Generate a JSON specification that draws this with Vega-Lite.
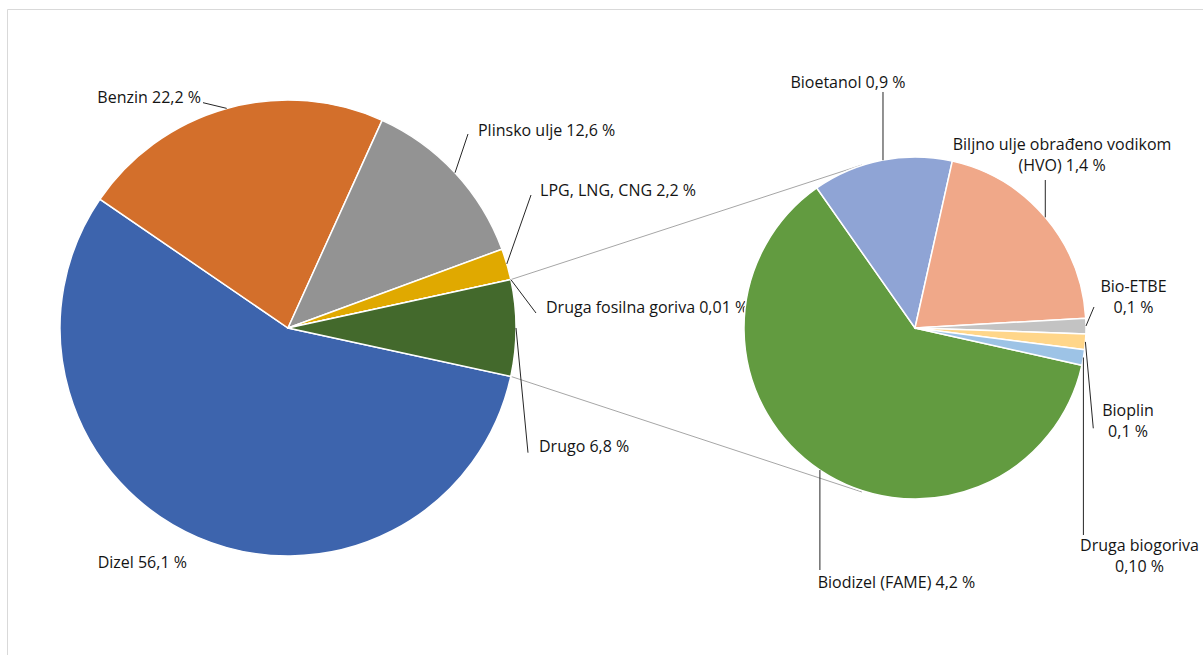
{
  "$schema": "https://vega.github.io/schema/vega-lite/v6.json",
  "width": 1203,
  "height": 655,
  "autosize": {"type": "fit", "contains": "padding"},
  "padding": {"left": 7, "top": 9, "right": 0, "bottom": 0},
  "background": "white",
  "config": {"view": {"stroke": "#d9d9d9", "strokeWidth": 1}, "font": "Open Sans"},
  "datasets": {
    "slices": [
      {"pie": "Fosilna", "rank": 1, "name": "Dizel", "value": 56.1, "label": "Dizel 56,1 %"},
      {"pie": "Fosilna", "rank": 2, "name": "Benzin", "value": 22.2, "label": "Benzin 22,2 %"},
      {"pie": "Fosilna", "rank": 3, "name": "Plinsko ulje", "value": 12.6, "label": "Plinsko ulje 12,6 %"},
      {"pie": "Fosilna", "rank": 4, "name": "LPG, LNG, CNG", "value": 2.2, "label": "LPG, LNG, CNG 2,2 %"},
      {"pie": "Fosilna", "rank": 5, "name": "Druga fosilna goriva", "value": 0.01, "label": "Druga fosilna goriva 0,01 %"},
      {"pie": "Fosilna", "rank": 6, "name": "Drugo", "value": 6.8, "label": "Drugo 6,8 %"},
      {"pie": "Bio", "rank": 1, "name": "Biodizel (FAME)", "value": 4.2, "label": "Biodizel (FAME) 4,2 %"},
      {"pie": "Bio", "rank": 2, "name": "Bioetanol", "value": 0.9, "label": "Bioetanol 0,9 %"},
      {"pie": "Bio", "rank": 3, "name": "Biljno ulje obrađeno vodikom (HVO)", "value": 1.4, "label": "Biljno ulje obrađeno vodikom\n(HVO) 1,4 %"},
      {"pie": "Bio", "rank": 4, "name": "Bio-ETBE", "value": 0.1, "label": "Bio-ETBE\n0,1 %"},
      {"pie": "Bio", "rank": 5, "name": "Bioplin", "value": 0.1, "label": "Bioplin\n0,1 %"},
      {"pie": "Bio", "rank": 6, "name": "Druga biogoriva", "value": 0.1, "label": "Druga biogoriva\n0,10 %"}
    ]
  },
  "layer": [
    {"data": {"values": [{}]}, "mark": {"type": "rule", "color": "#a6a6a6", "strokeWidth": 1},
     "encoding": {"x": {"datum": 0.9772, "type": "quantitative", "scale": {"domain": [-1.2325, 4.0132], "zero": false, "nice": false}, "axis": null},
                  "y": {"datum": 0.2123, "type": "quantitative", "scale": {"domain": [-1.4342, 1.3991], "zero": false, "nice": false}, "axis": null},
                  "x2": {"datum": 2.5175}, "y2": {"datum": 0.7149}}},
    {"data": {"values": [{}]}, "mark": {"type": "rule", "color": "#a6a6a6", "strokeWidth": 1},
     "encoding": {"x": {"datum": 0.9772, "type": "quantitative", "scale": {"domain": [-1.2325, 4.0132], "zero": false, "nice": false}, "axis": null},
                  "y": {"datum": -0.2123, "type": "quantitative", "scale": {"domain": [-1.4342, 1.3991], "zero": false, "nice": false}, "axis": null},
                  "x2": {"datum": 2.5175}, "y2": {"datum": -0.7193}}},
    {
      "data": {"name": "slices"},
      "transform": [{"filter": "datum.pie === 'Fosilna'"}],
      "layer": [
        {
          "mark": {"type": "arc", "radius": 228, "stroke": "white", "strokeWidth": 1.5},
          "encoding": {
            "x": {"datum": 0, "type": "quantitative", "scale": {"domain": [-1.2325, 4.0132], "zero": false, "nice": false}, "axis": null},
            "y": {"datum": 0, "type": "quantitative", "scale": {"domain": [-1.4342, 1.3991], "zero": false, "nice": false}, "axis": null},
            "theta": {"field": "value", "type": "quantitative", "stack": true, "scale": {"range": [1.7846, 8.0678]}},
            "order": {"field": "rank", "type": "quantitative"},
            "color": {"field": "name", "type": "nominal", "legend": null,
                      "scale": {"domain": ["Dizel", "Benzin", "Plinsko ulje", "LPG, LNG, CNG", "Druga fosilna goriva", "Drugo"],
                                "range": ["#3d64ad", "#d36f2b", "#939393", "#e0a900", "#2f5b8f", "#43692c"]}}
          }
        },
        {
          "mark": {"type": "text", "radius": 228, "fontSize": 16, "color": "#141414", "baseline": "middle", "lineBreak": "\n", "lineHeight": 21,
                   "align": {"expr": "['right','right','left','left','left','left'][datum.rank - 1]"},
                   "dx": {"expr": "[-10.8, -25.7, 23, 33.2, 35.2, 23][datum.rank - 1]"},
                   "dy": {"expr": "[25.6, -10.4, -41.8, -73.3, 28.5, 119][datum.rank - 1]"}},
          "encoding": {
            "x": {"datum": 0, "type": "quantitative", "scale": {"domain": [-1.2325, 4.0132], "zero": false, "nice": false}, "axis": null},
            "y": {"datum": 0, "type": "quantitative", "scale": {"domain": [-1.4342, 1.3991], "zero": false, "nice": false}, "axis": null},
            "theta": {"field": "value", "type": "quantitative", "stack": true, "scale": {"range": [1.7846, 8.0678]}},
            "order": {"field": "rank", "type": "quantitative"},
            "detail": {"field": "name", "type": "nominal"},
            "text": {"field": "label", "type": "nominal"}
          }
        }
      ]
    },
    {
      "data": {"name": "slices"},
      "transform": [{"filter": "datum.pie === 'Bio'"}],
      "layer": [
        {
          "mark": {"type": "arc", "radius": 171, "stroke": "white", "strokeWidth": 1.5},
          "encoding": {
            "x": {"datum": 2.75, "type": "quantitative", "scale": {"domain": [-1.2325, 4.0132], "zero": false, "nice": false}, "axis": null},
            "y": {"datum": 0, "type": "quantitative", "scale": {"domain": [-1.4342, 1.3991], "zero": false, "nice": false}, "axis": null},
            "theta": {"field": "value", "type": "quantitative", "stack": true, "scale": {"range": [1.7907, 8.0739]}},
            "order": {"field": "rank", "type": "quantitative"},
            "color": {"field": "name", "type": "nominal", "legend": null,
                      "scale": {"domain": ["Biodizel (FAME)", "Bioetanol", "Biljno ulje obrađeno vodikom (HVO)", "Bio-ETBE", "Bioplin", "Druga biogoriva"],
                                "range": ["#629b40", "#8fa4d5", "#f0a889", "#c3c3c3", "#ffd68a", "#9dc3e6"]}}
          }
        },
        {
          "mark": {"type": "text", "radius": 171, "fontSize": 16, "color": "#141414", "baseline": "middle", "lineBreak": "\n", "lineHeight": 21, "align": "center",
                   "dx": {"expr": "[76.6, -33.8, 16.7, 47.5, 42.6, 56.1][datum.rank - 1]"},
                   "dy": {"expr": "[112.9, -77.5, -72.5, -39, 69.5, 188][datum.rank - 1]"}},
          "encoding": {
            "x": {"datum": 2.75, "type": "quantitative", "scale": {"domain": [-1.2325, 4.0132], "zero": false, "nice": false}, "axis": null},
            "y": {"datum": 0, "type": "quantitative", "scale": {"domain": [-1.4342, 1.3991], "zero": false, "nice": false}, "axis": null},
            "theta": {"field": "value", "type": "quantitative", "stack": true, "scale": {"range": [1.7907, 8.0739]}},
            "order": {"field": "rank", "type": "quantitative"},
            "detail": {"field": "name", "type": "nominal"},
            "text": {"field": "label", "type": "nominal"}
          }
        }
      ]
    },
    {"data": {"values": [{}]}, "mark": {"type": "rule", "color": "#262626", "strokeWidth": 1},
     "encoding": {"x": {"datum": -0.2689, "type": "quantitative", "scale": {"domain": [-1.2325, 4.0132], "zero": false, "nice": false}, "axis": null},
                  "y": {"datum": 0.9632, "type": "quantitative", "scale": {"domain": [-1.4342, 1.3991], "zero": false, "nice": false}, "axis": null},
                  "x2": {"datum": -0.3728}, "y2": {"datum": 0.9882}}},
    {"data": {"values": [{}]}, "mark": {"type": "rule", "color": "#262626", "strokeWidth": 1},
     "encoding": {"x": {"datum": 0.7325, "type": "quantitative", "scale": {"domain": [-1.2325, 4.0132], "zero": false, "nice": false}, "axis": null},
                  "y": {"datum": 0.6807, "type": "quantitative", "scale": {"domain": [-1.4342, 1.3991], "zero": false, "nice": false}, "axis": null},
                  "x2": {"datum": 0.7895}, "y2": {"datum": 0.8509}}},
    {"data": {"values": [{}]}, "mark": {"type": "rule", "color": "#262626", "strokeWidth": 1},
     "encoding": {"x": {"datum": 0.9596, "type": "quantitative", "scale": {"domain": [-1.2325, 4.0132], "zero": false, "nice": false}, "axis": null},
                  "y": {"datum": 0.2807, "type": "quantitative", "scale": {"domain": [-1.4342, 1.3991], "zero": false, "nice": false}, "axis": null},
                  "x2": {"datum": 1.0658}, "y2": {"datum": 0.5833}}},
    {"data": {"values": [{}]}, "mark": {"type": "rule", "color": "#262626", "strokeWidth": 1},
     "encoding": {"x": {"datum": 0.9772, "type": "quantitative", "scale": {"domain": [-1.2325, 4.0132], "zero": false, "nice": false}, "axis": null},
                  "y": {"datum": 0.2127, "type": "quantitative", "scale": {"domain": [-1.4342, 1.3991], "zero": false, "nice": false}, "axis": null},
                  "x2": {"datum": 1.0877}, "y2": {"datum": 0.0658}}},
    {"data": {"values": [{}]}, "mark": {"type": "rule", "color": "#262626", "strokeWidth": 1},
     "encoding": {"x": {"datum": 1.0, "type": "quantitative", "scale": {"domain": [-1.2325, 4.0132], "zero": false, "nice": false}, "axis": null},
                  "y": {"datum": 0.0, "type": "quantitative", "scale": {"domain": [-1.4342, 1.3991], "zero": false, "nice": false}, "axis": null},
                  "x2": {"datum": 1.0526}, "y2": {"datum": -0.5469}}},
    {"data": {"values": [{}]}, "mark": {"type": "rule", "color": "#262626", "strokeWidth": 1},
     "encoding": {"x": {"datum": 2.6096, "type": "quantitative", "scale": {"domain": [-1.2325, 4.0132], "zero": false, "nice": false}, "axis": null},
                  "y": {"datum": 0.7360, "type": "quantitative", "scale": {"domain": [-1.4342, 1.3991], "zero": false, "nice": false}, "axis": null},
                  "x2": {"datum": 2.6096}, "y2": {"datum": 1.0351}}},
    {"data": {"values": [{}]}, "mark": {"type": "rule", "color": "#262626", "strokeWidth": 1},
     "encoding": {"x": {"datum": 3.3215, "type": "quantitative", "scale": {"domain": [-1.2325, 4.0132], "zero": false, "nice": false}, "axis": null},
                  "y": {"datum": 0.4855, "type": "quantitative", "scale": {"domain": [-1.4342, 1.3991], "zero": false, "nice": false}, "axis": null},
                  "x2": {"datum": 3.3215}, "y2": {"datum": 0.6491}}},
    {"data": {"values": [{}]}, "mark": {"type": "rule", "color": "#262626", "strokeWidth": 1},
     "encoding": {"x": {"datum": 3.5, "type": "quantitative", "scale": {"domain": [-1.2325, 4.0132], "zero": false, "nice": false}, "axis": null},
                  "y": {"datum": 0.0088, "type": "quantitative", "scale": {"domain": [-1.4342, 1.3991], "zero": false, "nice": false}, "axis": null},
                  "x2": {"datum": 3.5351}, "y2": {"datum": 0.0921}}},
    {"data": {"values": [{}]}, "mark": {"type": "rule", "color": "#262626", "strokeWidth": 1},
     "encoding": {"x": {"datum": 3.4974, "type": "quantitative", "scale": {"domain": [-1.2325, 4.0132], "zero": false, "nice": false}, "axis": null},
                  "y": {"datum": -0.0610, "type": "quantitative", "scale": {"domain": [-1.4342, 1.3991], "zero": false, "nice": false}, "axis": null},
                  "x2": {"datum": 3.5320}, "y2": {"datum": -0.4399}}},
    {"data": {"values": [{}]}, "mark": {"type": "rule", "color": "#262626", "strokeWidth": 1},
     "encoding": {"x": {"datum": 3.4886, "type": "quantitative", "scale": {"domain": [-1.2325, 4.0132], "zero": false, "nice": false}, "axis": null},
                  "y": {"datum": -0.1294, "type": "quantitative", "scale": {"domain": [-1.4342, 1.3991], "zero": false, "nice": false}, "axis": null},
                  "x2": {"datum": 3.4886}, "y2": {"datum": -0.9079}}},
    {"data": {"values": [{}]}, "mark": {"type": "rule", "color": "#262626", "strokeWidth": 1},
     "encoding": {"x": {"datum": 2.3329, "type": "quantitative", "scale": {"domain": [-1.2325, 4.0132], "zero": false, "nice": false}, "axis": null},
                  "y": {"datum": -0.6232, "type": "quantitative", "scale": {"domain": [-1.4342, 1.3991], "zero": false, "nice": false}, "axis": null},
                  "x2": {"datum": 2.3329}, "y2": {"datum": -1.0614}}}
  ],
  "resolve": {"scale": {"theta": "independent", "color": "independent"}}
}
